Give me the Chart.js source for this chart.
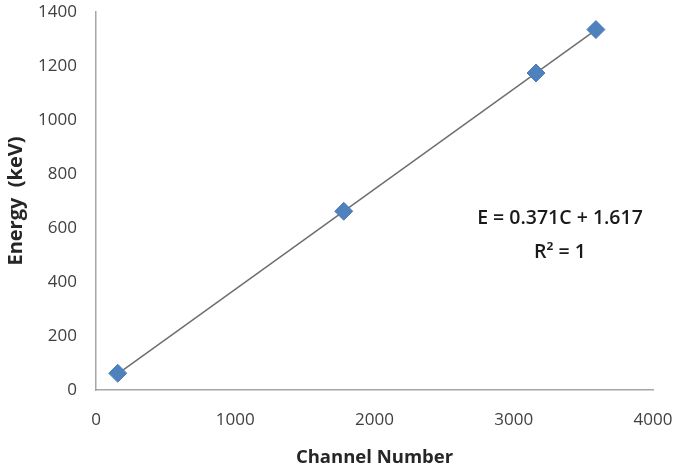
<!DOCTYPE html>
<html>
<head>
<meta charset="utf-8">
<script src="https://cdn.jsdelivr.net/npm/chart.js@4/dist/chart.umd.min.js"></script>
<style>
    html, body { margin: 0; padding: 0; background: #fff; }
    #wrap { width: 685px; height: 471px; }
</style>
</head>
<body>
<div id="wrap"><canvas id="myChart" width="685" height="471"></canvas></div>
<script>
// measured points (channel vs energy)
const channels = [156, 1779, 3160, 3590];
const energies = [62, 662, 1174, 1335];

// linear fit shown on the chart
const slope = 0.371;
const intercept = 1.617;
const fitLabel = ["E = 0.371C + 1.617", "R\u00b2 = 1"];

const xTicks = [0, 1000, 2000, 3000, 4000];
const yTicks = [0, 200, 400, 600, 800, 1000, 1200, 1400];

const FONT = "'Open Sans', 'Liberation Sans', sans-serif";

const points = channels.map((c, i) => ({ x: c, y: energies[i] }));
const xFirst = Math.min(...channels);
const xLast = Math.max(...channels);
const fitLine = [xFirst, xLast].map(c => ({ x: c, y: slope * c + intercept }));

// fix axis box size and drop the label overflow padding
function fixBox(axis, size) {
    if (axis.isHorizontal()) axis.height = size;
    else axis.width = size;
    axis.paddingTop = 0;
    axis.paddingBottom = 0;
    axis.paddingLeft = 0;
    axis.paddingRight = 0;
}

// draws the equation text
const equationText = {
    id: 'equationText',
    afterDatasetsDraw(chart) {
        const { ctx, scales } = chart;
        const cx = scales.x.getPixelForValue(3332);
        const y1 = scales.y.getPixelForValue(637);
        const y2 = scales.y.getPixelForValue(511);
        ctx.save();
        ctx.fillStyle = '#1a1a1a';
        ctx.textAlign = 'center';
        ctx.textBaseline = 'middle';
        ctx.font = "600 19.5px " + FONT;
        ctx.fillText(fitLabel[0], cx, y1);
        ctx.fillText(fitLabel[1], cx, y2);
        ctx.restore();
    }
};

const ctx = document.getElementById('myChart').getContext('2d');
const myChart = new Chart(ctx, {
    type: 'scatter',
    data: {
        datasets: [{
            type: 'line',
            label: 'Linear fit',
            data: fitLine,
            borderColor: '#6e6e6e',
            borderWidth: 1.5,
            pointRadius: 0,
            fill: false,
            order: 2
        }, {
            label: 'Energy',
            data: points,
            pointStyle: 'rectRot',
            pointRadius: 9,
            pointHoverRadius: 9,
            backgroundColor: '#4f81bd',
            borderColor: '#4a7ebb',
            borderWidth: 1,
            order: 1
        }]
    },
    options: {
        responsive: false,
        animation: false,
        layout: {
            autoPadding: false,
            padding: { top: 12, right: 32, left: 0, bottom: 0 }
        },
        scales: {
            x: {
                type: 'linear',
                min: 0,
                max: 4000,
                afterBuildTicks: axis => { axis.ticks = xTicks.map(v => ({ value: v })); },
                afterFit: axis => fixBox(axis, 81),
                grid: { display: false, drawTicks: false },
                border: { display: true, color: '#a6a6a6', width: 1.5 },
                ticks: {
                    padding: 20,
                    color: '#404040',
                    font: { family: FONT, size: 17 },
                    callback: v => String(v)
                },
                title: {
                    display: true,
                    text: 'Channel Number',
                    color: '#262626',
                    padding: { top: 0, bottom: 2 },
                    font: { family: FONT, size: 18.5, weight: 'bold' }
                }
            },
            y: {
                type: 'linear',
                min: 0,
                max: 1400,
                afterBuildTicks: axis => { axis.ticks = yTicks.map(v => ({ value: v })); },
                afterFit: axis => fixBox(axis, 96),
                grid: { display: false, drawTicks: false },
                border: { display: true, color: '#a6a6a6', width: 1.5 },
                ticks: {
                    padding: 19,
                    color: '#404040',
                    font: { family: FONT, size: 17 },
                    callback: v => String(v)
                },
                title: {
                    display: true,
                    text: 'Energy  (keV)',
                    color: '#262626',
                    padding: { top: 4, bottom: 0 },
                    font: { family: FONT, size: 20, weight: 'bold' }
                }
            }
        },
        plugins: {
            legend: { display: false },
            tooltip: { enabled: false }
        }
    },
    plugins: [equationText]
});
</script>
</body>
</html>
